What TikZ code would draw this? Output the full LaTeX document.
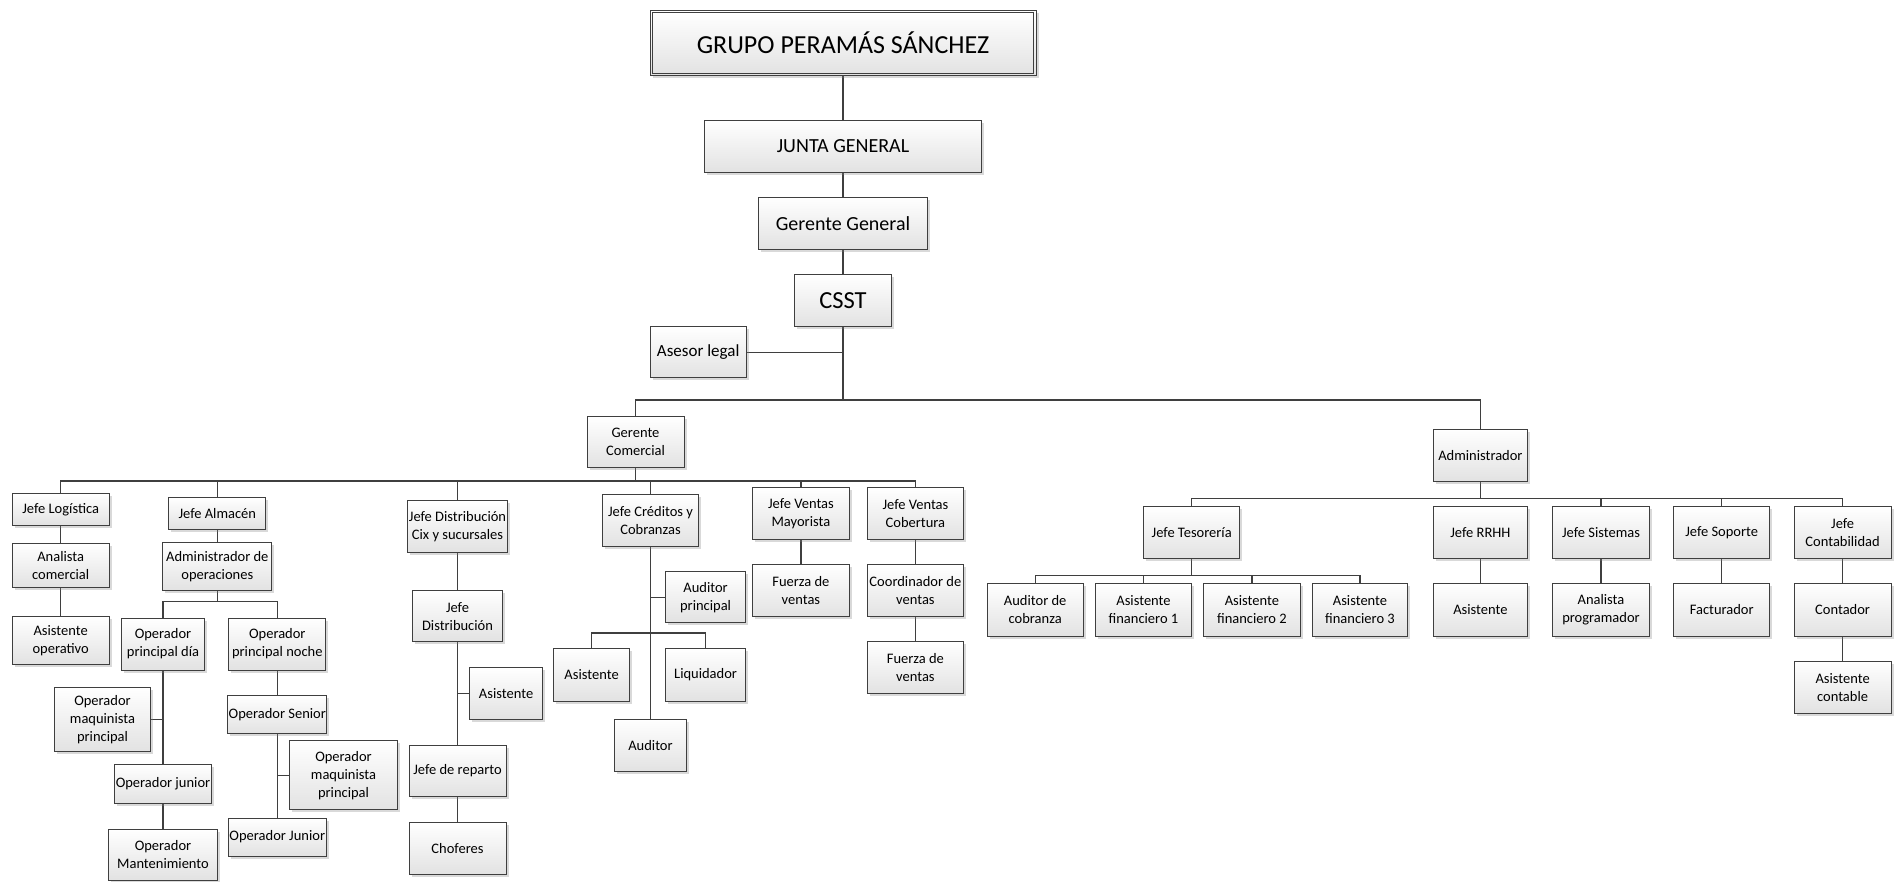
\documentclass[tikz,border=0pt]{standalone}
\usepackage{fontspec}
\setmainfont{Carlito}
\usetikzlibrary{shadows,backgrounds}
\definecolor{lc}{HTML}{3F3F3F}
\definecolor{fb}{HTML}{E2E2E2}
\tikzset{
  bx/.style={rectangle, draw=lc, line width=1pt, top color=white, bottom color=fb,
    drop shadow={opacity=0.3, shadow xshift=2.5pt, shadow yshift=-2.5pt},
    align=center, inner sep=1pt, font=\fontsize{14.5}{18}\selectfont},
  ln/.style={draw=lc, line width=1.2pt},
}
\newcommand{\bx}[6]{\node[bx, minimum width=#4pt, minimum height=#5pt] (#1) at (#2,-#3) {#6};}
\begin{document}
\begin{tikzpicture}[x=1pt,y=1pt]
\useasboundingbox (0,0) rectangle (1899,-882);
% top
\node[bx, minimum width=386pt, minimum height=65pt, font=\fontsize{26}{30}\selectfont] (grupo) at (843,-43.2) {GRUPO PERAMÁS SÁNCHEZ};
\draw[lc, line width=0.9pt] ([shift={(2.6,-2.6)}]grupo.north west) rectangle ([shift={(-2.6,2.6)}]grupo.south east);
\node[bx, minimum width=277.4pt, minimum height=52.3pt, font=\fontsize{20}{24}\selectfont] (junta) at (843,-146.2) {JUNTA GENERAL};
\node[bx, minimum width=169.4pt, minimum height=52pt, font=\fontsize{20}{24}\selectfont] (gg) at (843,-223.3) {Gerente General};
\node[bx, minimum width=97pt, minimum height=52pt, font=\fontsize{24.5}{28}\selectfont] (csst) at (843,-300.7) {CSST};
\node[bx, minimum width=95.7pt, minimum height=51.3pt, font=\fontsize{17}{20}\selectfont] (asesor) at (698.2,-352.3) {Asesor legal};
\coordinate (bTop) at (0,-400);
\coordinate (bGC) at (0,-481);
\coordinate (bAO) at (0,-601.7);
\coordinate (bCC) at (0,-633);
\coordinate (bAD) at (0,-498.7);
\coordinate (bTS) at (0,-575.3);
% second level
\bx{gc}{635.5}{442.3}{97}{51.3}{Gerente\\Comercial}
\bx{adm}{1480.4}{455.3}{94.7}{52}{Administrador}
% commercial children
\bx{jlog}{60.7}{509.8}{96.7}{31.7}{Jefe Logística}
\bx{jalm}{217.3}{513.5}{97}{31.6}{Jefe Almacén}
\bx{jdc}{457.5}{526.5}{97}{51.6}{Jefe Distribución\\Cix y sucursales}
\bx{jcc}{650.5}{520.2}{96.6}{51.7}{Jefe Créditos y\\Cobranzas}
\bx{jvm}{800.9}{513.5}{96.5}{51.6}{Jefe Ventas\\Mayorista}
\bx{jvc}{915.4}{513.5}{96.2}{51.6}{Jefe Ventas\\Cobertura}
% logistics
\bx{anal}{60.7}{565.2}{96.7}{44.3}{Analista\\comercial}
\bx{asop}{60.7}{640.7}{96.7}{48}{Asistente\\operativo}
% almacen
\bx{admop}{217.3}{566.8}{108.7}{47.7}{Administrador de\\operaciones}
\bx{opdia}{163}{644}{83.6}{52}{Operador\\principal día}
\bx{opnoc}{277.3}{644}{96.7}{52}{Operador\\principal noche}
\bx{ompa}{102.5}{719.5}{95.6}{64.4}{Operador\\maquinista\\principal}
\bx{opjun}{163}{784}{96.7}{38.6}{Operador junior}
\bx{opman}{163}{854.8}{108.3}{51}{Operador\\Mantenimiento}
\bx{opsen}{277.3}{714.5}{96.7}{38.4}{Operador Senior}
\bx{ompb}{343.5}{775.3}{108.4}{69.3}{Operador\\maquinista\\principal}
\bx{opJun}{277.3}{837}{96.7}{38}{Operador Junior}
% distribucion
\bx{jd}{457.5}{616.3}{90.6}{51.3}{Jefe\\Distribución}
\bx{asisa}{506.1}{693.5}{72.5}{51.6}{Asistente}
\bx{jrep}{457.5}{770.8}{97}{51}{Jefe de reparto}
\bx{chof}{457.5}{848.7}{97}{52}{Choferes}
% creditos
\bx{audp}{705.6}{597.3}{80.6}{51.3}{Auditor\\principal}
\bx{asisb}{591.6}{674.7}{75.5}{52.7}{Asistente}
\bx{liq}{705.6}{674.7}{80.6}{52.7}{Liquidador}
\bx{aud}{650.5}{745.3}{72.1}{52}{Auditor}
% ventas
\bx{fva}{800.9}{590.8}{96.5}{52.3}{Fuerza de\\ventas}
\bx{coord}{915.4}{590.8}{96.2}{52.3}{Coordinador de\\ventas}
\bx{fvb}{915.4}{667.8}{96.2}{52.3}{Fuerza de\\ventas}
% administrador children
\bx{jtes}{1191.7}{532.7}{95.8}{52}{Jefe Tesorería}
\bx{jrrhh}{1480.4}{532.7}{94.7}{52}{Jefe RRHH}
\bx{jsis}{1601}{532.7}{96.4}{52}{Jefe Sistemas}
\bx{jsop}{1721.7}{532.7}{95.8}{52}{Jefe Soporte}
\bx{jcon}{1842.6}{532.7}{97}{52}{Jefe\\Contabilidad}
\bx{audc}{1035.2}{609.8}{96.4}{53}{Auditor de\\cobranza}
\bx{afa}{1143.5}{609.8}{96.4}{53}{Asistente\\financiero 1}
\bx{afb}{1251.9}{609.8}{96.4}{53}{Asistente\\financiero 2}
\bx{afc}{1360}{609.8}{95.8}{53}{Asistente\\financiero 3}
\bx{asisc}{1480.4}{609.8}{94.7}{53}{Asistente}
\bx{anprog}{1601}{609.8}{96.4}{53}{Analista\\programador}
\bx{fact}{1721.7}{609.8}{95.8}{53}{Facturador}
\bx{cont}{1842.6}{609.8}{97}{53}{Contador}
\bx{ascont}{1842.6}{687.3}{97}{52}{Asistente\\contable}
% connectors
\begin{pgfonlayer}{background}
\draw[ln] (grupo.south) -- (junta.north);
\draw[ln] (junta.south) -- (gg.north);
\draw[ln] (gg.south) -- (csst.north);
\draw[ln] (csst.south) -- (csst.south |- bTop);
\draw[ln] (gc.north) |- (adm.north |- bTop) -- (adm.north);
\draw[ln] (asesor.east) -- (asesor.east -| csst.south);
% gerente comercial
\draw[ln] (gc.south) -- (gc.south |- bGC);
\draw[ln] (jlog.north) |- (jvc.north |- bGC) -- (jvc.north);
\foreach \c in {jalm,jdc,jcc,jvm}
  \draw[ln] (\c.north) -- (\c.north |- bGC);
\draw[ln] (jlog.south) -- (anal.north);
\draw[ln] (anal.south) -- (asop.north);
\draw[ln] (jalm.south) -- (admop.north);
\draw[ln] (admop.south) -- (admop.south |- bAO);
\draw[ln] (opdia.north) |- (opnoc.north |- bAO) -- (opnoc.north);
\draw[ln] (opdia.south) -- (opjun.north);
\draw[ln] (opjun.south) -- (opman.north);
\draw[ln] (ompa.east) -- (ompa.east -| opdia.south);
\draw[ln] (opnoc.south) -- (opsen.north);
\draw[ln] (opsen.south) -- (opJun.north);
\draw[ln] (ompb.west) -- (ompb.west -| opsen.south);
\draw[ln] (jdc.south) -- (jd.north);
\draw[ln] (jd.south) -- (jrep.north);
\draw[ln] (jrep.south) -- (chof.north);
\draw[ln] (asisa.west) -- (asisa.west -| jd.south);
\draw[ln] (jcc.south) -- (aud.north);
\draw[ln] (audp.west) -- (audp.west -| jcc.south);
\draw[ln] (asisb.north) |- (liq.north |- bCC) -- (liq.north);
\draw[ln] (jvm.south) -- (fva.north);
\draw[ln] (jvc.south) -- (coord.north);
\draw[ln] (coord.south) -- (fvb.north);
% administrador
\draw[ln] (adm.south) -- (adm.south |- bAD);
\draw[ln] (jtes.north) |- (jcon.north |- bAD) -- (jcon.north);
\foreach \c in {jsis,jsop}
  \draw[ln] (\c.north) -- (\c.north |- bAD);
\draw[ln] (jtes.south) -- (jtes.south |- bTS);
\draw[ln] (audc.north) |- (afc.north |- bTS) -- (afc.north);
\foreach \c in {afa,afb}
  \draw[ln] (\c.north) -- (\c.north |- bTS);
\draw[ln] (jrrhh.south) -- (asisc.north);
\draw[ln] (jsis.south) -- (anprog.north);
\draw[ln] (jsop.south) -- (fact.north);
\draw[ln] (jcon.south) -- (cont.north);
\draw[ln] (cont.south) -- (ascont.north);
\end{pgfonlayer}
\end{tikzpicture}
\end{document}
